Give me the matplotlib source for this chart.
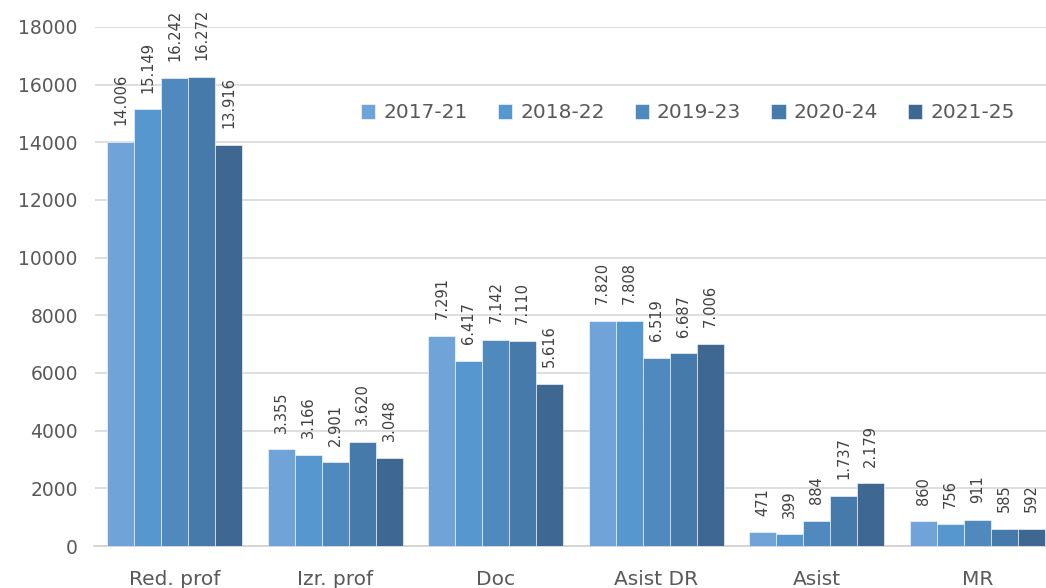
import matplotlib
matplotlib.use("Agg")
import matplotlib.pyplot as plt
import numpy as np

categories = ["Red. prof", "Izr. prof", "Doc", "Asist DR", "Asist", "MR"]
series_names = ["2017-21", "2018-22", "2019-23", "2020-24", "2021-25"]
values = {
    "2017-21": [14006, 3355, 7291, 7820, 471, 860],
    "2018-22": [15149, 3166, 6417, 7808, 399, 756],
    "2019-23": [16242, 2901, 7142, 6519, 884, 911],
    "2020-24": [16272, 3620, 7110, 6687, 1737, 585],
    "2021-25": [13916, 3048, 5616, 7006, 2179, 592],
}
colors = ["#70a4d8", "#5797cf", "#4f89bd", "#467aab", "#3e6892"]
yticks = [0, 2000, 4000, 6000, 8000, 10000, 12000, 14000, 16000, 18000]

font = "DejaVu Sans"


def fmt(v):
    # thousands separated by a dot
    return f"{v:,}".replace(",", ".")


fig = plt.figure(figsize=(10.46, 5.88), dpi=100)
ax = fig.add_axes([94.5 / 1046, 42 / 588, 963 / 1046, 519 / 588])

x = np.arange(len(categories))
n = len(series_names)
w = 0.168
for i, name in enumerate(series_names):
    pos = x + (i - (n - 1) / 2) * w
    bars = ax.bar(pos, values[name], width=w, color=colors[i], label=name,
                  edgecolor="white", linewidth=0.4, zorder=3)
    for b, v in zip(bars, values[name]):
        ax.annotate(fmt(v), (b.get_x() + b.get_width() / 2, v),
                    xytext=(0, 12), textcoords="offset points",
                    rotation=90, ha="center", va="bottom", family=font,
                    fontsize=10.5, color="#404040", annotation_clip=False)

ax.set_xlim(-0.5, len(categories) - 0.5)
ax.set_ylim(0, 18000)
ax.set_yticks(yticks)
ax.set_yticklabels([str(t) for t in yticks], family=font, fontsize=13.5, color="#595959")
ax.set_xticks(x)
ax.set_xticklabels(categories, family=font, fontsize=14.5, color="#595959")
ax.tick_params(axis="both", length=0)
ax.tick_params(axis="x", pad=17)
ax.tick_params(axis="y", pad=12)
ax.grid(axis="y", color="#d9d9d9", linewidth=1.2, zorder=0)
for s in ["top", "right", "left"]:
    ax.spines[s].set_visible(False)
ax.spines["bottom"].set_color("#d0d0d0")
ax.spines["bottom"].set_linewidth(1.2)

leg = ax.legend(loc="center", bbox_to_anchor=(688 / 1046, 1 - 113 / 588),
                bbox_transform=fig.transFigure, ncol=5, frameon=False,
                prop={"family": font, "size": 14.5}, handlelength=0.7,
                handleheight=0.7, handletextpad=0.4, columnspacing=1.5)
for t in leg.get_texts():
    t.set_color("#595959")

fig.savefig("out.png", dpi=100)
